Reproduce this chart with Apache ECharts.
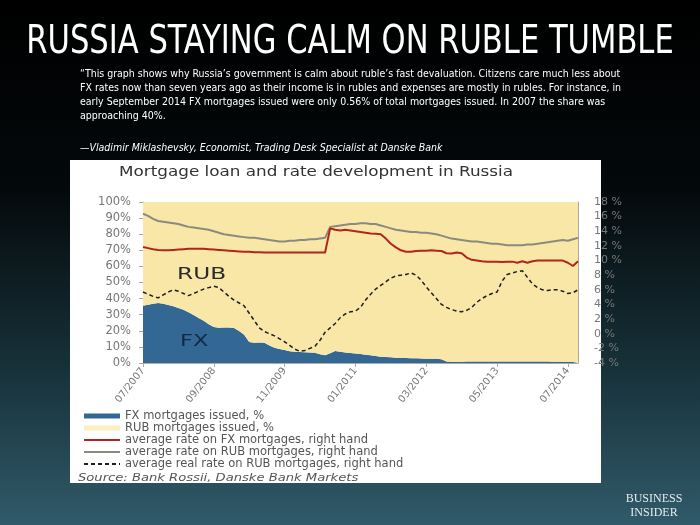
<!DOCTYPE html>
<html>
<head>
<meta charset="utf-8">
<style>html,body{margin:0;padding:0;background:#000;}#c{width:700px;height:525px;}</style>
<script src="https://cdn.jsdelivr.net/npm/echarts@6/dist/echarts.min.js"></script>
</head>
<body>
<div id="c"></div>
<script>
// ---- data (monthly, 07/2007 .. 09/2014) ----
var startYear = 2007, startMonth = 7, monthCount = 87;
var months = [];
for (var i = 0; i < monthCount; i++) {
  var mm = (startMonth - 1 + i) % 12 + 1, yy = startYear + Math.floor((startMonth - 1 + i) / 12);
  months.push((mm < 10 ? '0' + mm : '' + mm) + '/' + yy);
}
var xTickLabels = ['07/2007', '09/2008', '11/2009', '01/2011', '03/2012', '05/2013', '07/2014'];

// FX mortgages issued, % of total (left axis)
var fxIssued = [35.5,36.2,36.8,37.2,36.8,36.0,35.2,34.2,33.0,31.5,
  29.8,28.0,26.2,24.0,22.3,21.9,22.0,22.1,21.8,19.8,
  17.5,13.0,12.6,12.8,12.6,10.8,9.5,8.7,8.0,7.3,
  7.0,6.8,6.6,6.5,6.3,5.5,4.8,6.0,7.4,7.0,
  6.5,6.2,5.9,5.6,5.2,4.8,4.3,3.9,3.7,3.5,
  3.3,3.2,3.1,3.0,2.9,2.8,2.7,2.7,2.6,2.4,
  1.0,0.8,0.8,0.8,0.9,0.9,1.0,1.0,1.0,1.0,
  1.0,1.0,1.0,1.0,1.0,0.9,0.9,0.9,0.9,0.9,
  0.9,0.8,0.8,0.7,0.6,0.56,0.5];
// RUB mortgages issued, % of total (left axis)
var rubIssued = [64.5,63.8,63.2,62.8,63.2,64.0,64.8,65.8,67.0,68.5,
  70.2,72.0,73.8,76.0,77.7,78.1,78.0,77.9,78.2,80.2,
  82.5,87.0,87.4,87.2,87.4,89.2,90.5,91.3,92.0,92.7,
  93.0,93.2,93.4,93.5,93.7,94.5,95.2,94.0,92.6,93.0,
  93.5,93.8,94.1,94.4,94.8,95.2,95.7,96.1,96.3,96.5,
  96.7,96.8,96.9,97.0,97.1,97.2,97.3,97.3,97.4,97.6,
  99.0,99.2,99.2,99.2,99.1,99.1,99.0,99.0,99.0,99.0,
  99.0,99.0,99.0,99.0,99.0,99.1,99.1,99.1,99.1,99.1,
  99.1,99.2,99.2,99.3,99.4,99.44,99.5];
// average rate on FX mortgages (right axis, %)
var fxRate = [11.85,11.7,11.55,11.45,11.4,11.4,11.45,11.5,11.55,11.6,
  11.6,11.6,11.6,11.55,11.5,11.45,11.4,11.35,11.3,11.25,
  11.2,11.2,11.15,11.15,11.1,11.1,11.1,11.1,11.1,11.1,
  11.1,11.1,11.1,11.1,11.1,11.1,11.1,14.4,14.2,14.1,
  14.2,14.1,14.0,13.9,13.8,13.7,13.65,13.6,13.0,12.3,
  11.8,11.4,11.2,11.2,11.3,11.35,11.35,11.4,11.35,11.3,
  11.0,10.95,11.1,11.0,10.4,10.1,10.0,9.9,9.85,9.85,
  9.85,9.8,9.85,9.85,9.7,9.9,9.7,9.9,10.0,10.0,
  10.0,10.0,10.0,10.0,9.7,9.25,9.9];
// average rate on RUB mortgages (right axis, %)
var rubRate = [16.4,16.1,15.7,15.4,15.3,15.2,15.1,15.0,14.8,14.6,
  14.5,14.4,14.3,14.2,14.0,13.8,13.6,13.5,13.4,13.3,
  13.2,13.1,13.1,13.0,12.9,12.8,12.7,12.6,12.6,12.7,
  12.7,12.8,12.8,12.9,12.9,13.0,13.1,14.6,14.7,14.8,
  14.9,15.0,15.0,15.1,15.1,15.0,15.0,14.8,14.6,14.4,
  14.2,14.1,14.0,13.9,13.9,13.8,13.8,13.7,13.6,13.4,
  13.2,13.0,12.9,12.8,12.7,12.6,12.6,12.5,12.4,12.3,
  12.3,12.2,12.1,12.1,12.1,12.1,12.2,12.2,12.3,12.4,
  12.5,12.6,12.7,12.8,12.7,12.9,13.1];
// average real rate on RUB mortgages (right axis, %)
var rubRealRate = [5.7,5.4,5.1,4.9,5.3,5.7,6.0,5.8,5.5,5.2,
  5.5,5.8,6.1,6.3,6.5,6.3,5.7,5.1,4.6,4.2,
  3.8,2.8,1.8,0.8,0.3,0.0,-0.3,-0.7,-1.1,-1.6,
  -2.1,-2.4,-2.3,-2.0,-1.7,-0.9,0.2,0.8,1.4,2.2,
  2.7,3.0,3.1,3.6,4.6,5.4,6.1,6.6,7.1,7.6,
  7.9,8.0,8.1,8.3,8.0,7.3,6.4,5.6,4.8,4.0,
  3.6,3.3,3.1,3.0,3.2,3.6,4.3,4.8,5.2,5.5,
  5.7,7.2,8.1,8.3,8.5,8.6,7.7,6.8,6.3,6.0,
  5.9,6.0,6.0,5.8,5.5,5.6,6.0];

var seriesNames = ['FX mortgages issued, %', 'RUB mortgages issued, %',
  'average rate on FX mortgages, right hand', 'average rate on RUB mortgages, right hand',
  'average real rate on RUB mortgages, right hand'];

var quoteLines = [
  '\u201CThis graph shows why Russia\u2019s government is calm about ruble\u2019s fast devaluation. Citizens care much less about',
  'FX rates now than seven years ago as their income is in rubles and expenses are mostly in rubles. For instance, in',
  'early September 2014 FX mortgages issued were only 0.56% of total mortgages issued. In 2007 the share was',
  'approaching 40%.'
];

var BLUE = '#336894', YELLOW = '#f9e7a8', RED = '#b3241c', GRAY = '#8a8a80', DASH = '#1e1e1e';
var NARROW = '"Liberation Sans Narrow","DejaVu Sans Condensed",sans-serif';
var WIDE = '"DejaVu Sans",Verdana,sans-serif';

function isTick(index, value) { return xTickLabels.indexOf(value) >= 0; }

function txt(x, y, text, font, fill, opts) {
  opts = opts || {};
  return { type: 'text', z: 10, x: x, y: y, scaleX: opts.sx || 1, scaleY: opts.sy || 1,
    style: { text: text, x: 0, y: 0, textAlign: opts.align || 'left', textVerticalAlign: 'middle', fill: fill, font: font } };
}

var graphics = [
  { type: 'rect', z: -5, shape: { x: 70, y: 160, width: 531, height: 323 }, style: { fill: '#ffffff' } },
  txt(350, 43, 'RUSSIA STAYING CALM ON RUBLE TUMBLE', '34px ' + NARROW, '#ffffff', { align: 'center', sy: 1.15 }),
  txt(80, 148, '\u2014Vladimir Miklashevsky, Economist, Trading Desk Specialist at Danske Bank', 'italic 10.5px ' + NARROW, '#ffffff'),
  txt(119, 172, 'Mortgage loan and rate development in Russia', '14px ' + WIDE, '#333333', { sx: 1.2 }),
  txt(177, 275, 'RUB', '15px ' + WIDE, '#2a2a2a', { sx: 1.55 }),
  txt(180, 342, 'FX', '15px ' + WIDE, '#13294a', { sx: 1.5 }),
  txt(78, 478, 'Source: Bank Rossii, Danske Bank Markets', 'italic 10.5px ' + WIDE, '#555555', { sx: 1.25 }),
  txt(654, 499, 'BUSINESS', '12px "Liberation Serif","DejaVu Serif",serif', '#e4ecee', { align: 'center' }),
  txt(654, 513, 'INSIDER', '12px "Liberation Serif","DejaVu Serif",serif', '#e4ecee', { align: 'center' })
];
quoteLines.forEach(function (t, k) {
  graphics.push(txt(80, 74 + k * 14, t, '10.5px ' + NARROW, '#ffffff'));
});

var chart = echarts.init(document.getElementById('c'), null, { renderer: 'canvas' });
chart.setOption({
  animation: false,
  backgroundColor: { type: 'linear', x: 0, y: 0, x2: 0, y2: 1, colorStops: [
    { offset: 0, color: '#000000' }, { offset: 0.35, color: '#03080a' }, { offset: 0.7, color: '#173139' }, { offset: 1, color: '#315a6a' } ] },
  graphic: graphics,
  grid: { left: 143, right: 122, top: 202, bottom: 162 },
  legend: {
    orient: 'vertical', left: 78, top: 405, itemWidth: 36, itemHeight: 5, itemGap: 0,
    textStyle: { color: '#555555', fontSize: 11.5, fontFamily: WIDE, lineHeight: 11.5 },
    selectedMode: false,
    data: [
      { name: seriesNames[0], icon: 'rect', itemStyle: { color: BLUE } },
      { name: seriesNames[1], icon: 'rect', itemStyle: { color: '#fbefbf' } },
      { name: seriesNames[2], itemStyle: { opacity: 0 } },
      { name: seriesNames[3], itemStyle: { opacity: 0 } },
      { name: seriesNames[4], itemStyle: { opacity: 0 } }
    ]
  },
  xAxis: {
    type: 'category', data: months, boundaryGap: false,
    axisLine: { lineStyle: { color: '#aaaaaa' } },
    axisTick: { interval: isTick, length: 4, lineStyle: { color: '#aaaaaa' } },
    axisLabel: { interval: isTick, rotate: 52, color: '#777777', fontSize: 10, fontFamily: WIDE, margin: 6 },
    splitLine: { show: false }
  },
  yAxis: [
    { type: 'value', min: 0, max: 100, interval: 10,
      axisLine: { show: true, lineStyle: { color: '#aaaaaa' } },
      axisTick: { show: true, length: 4, lineStyle: { color: '#aaaaaa' } },
      axisLabel: { formatter: '{value}%', color: '#777777', fontSize: 11.5, fontFamily: WIDE, margin: 12 },
      splitLine: { show: false } },
    { type: 'value', min: -4, max: 18, interval: 2, position: 'right',
      axisLine: { show: true, lineStyle: { color: '#aaaaaa' } },
      axisTick: { show: true, inside: true, length: 4, lineStyle: { color: '#aaaaaa' } },
      axisLabel: { formatter: '{value} %', color: '#777777', fontSize: 11, fontFamily: WIDE, margin: 16 },
      splitLine: { show: false } }
  ],
  series: [
    { name: seriesNames[0], type: 'line', stack: 'share', yAxisIndex: 0, data: fxIssued, symbol: 'none', color: BLUE,
      lineStyle: { width: 0 }, areaStyle: { color: BLUE, opacity: 1 }, z: 1 },
    { name: seriesNames[1], type: 'line', stack: 'share', yAxisIndex: 0, data: rubIssued, symbol: 'none', color: YELLOW,
      lineStyle: { width: 0 }, areaStyle: { color: YELLOW, opacity: 1 }, z: 1 },
    { name: seriesNames[2], type: 'line', yAxisIndex: 1, data: fxRate, symbol: 'none', color: RED,
      lineStyle: { width: 2, color: RED }, z: 4 },
    { name: seriesNames[3], type: 'line', yAxisIndex: 1, data: rubRate, symbol: 'none', color: GRAY,
      lineStyle: { width: 2, color: GRAY }, z: 3 },
    { name: seriesNames[4], type: 'line', yAxisIndex: 1, data: rubRealRate, symbol: 'none', color: DASH,
      lineStyle: { width: 1.5, color: DASH, type: [4, 3] }, z: 5 }
  ]
});
</script>
</body>
</html>
